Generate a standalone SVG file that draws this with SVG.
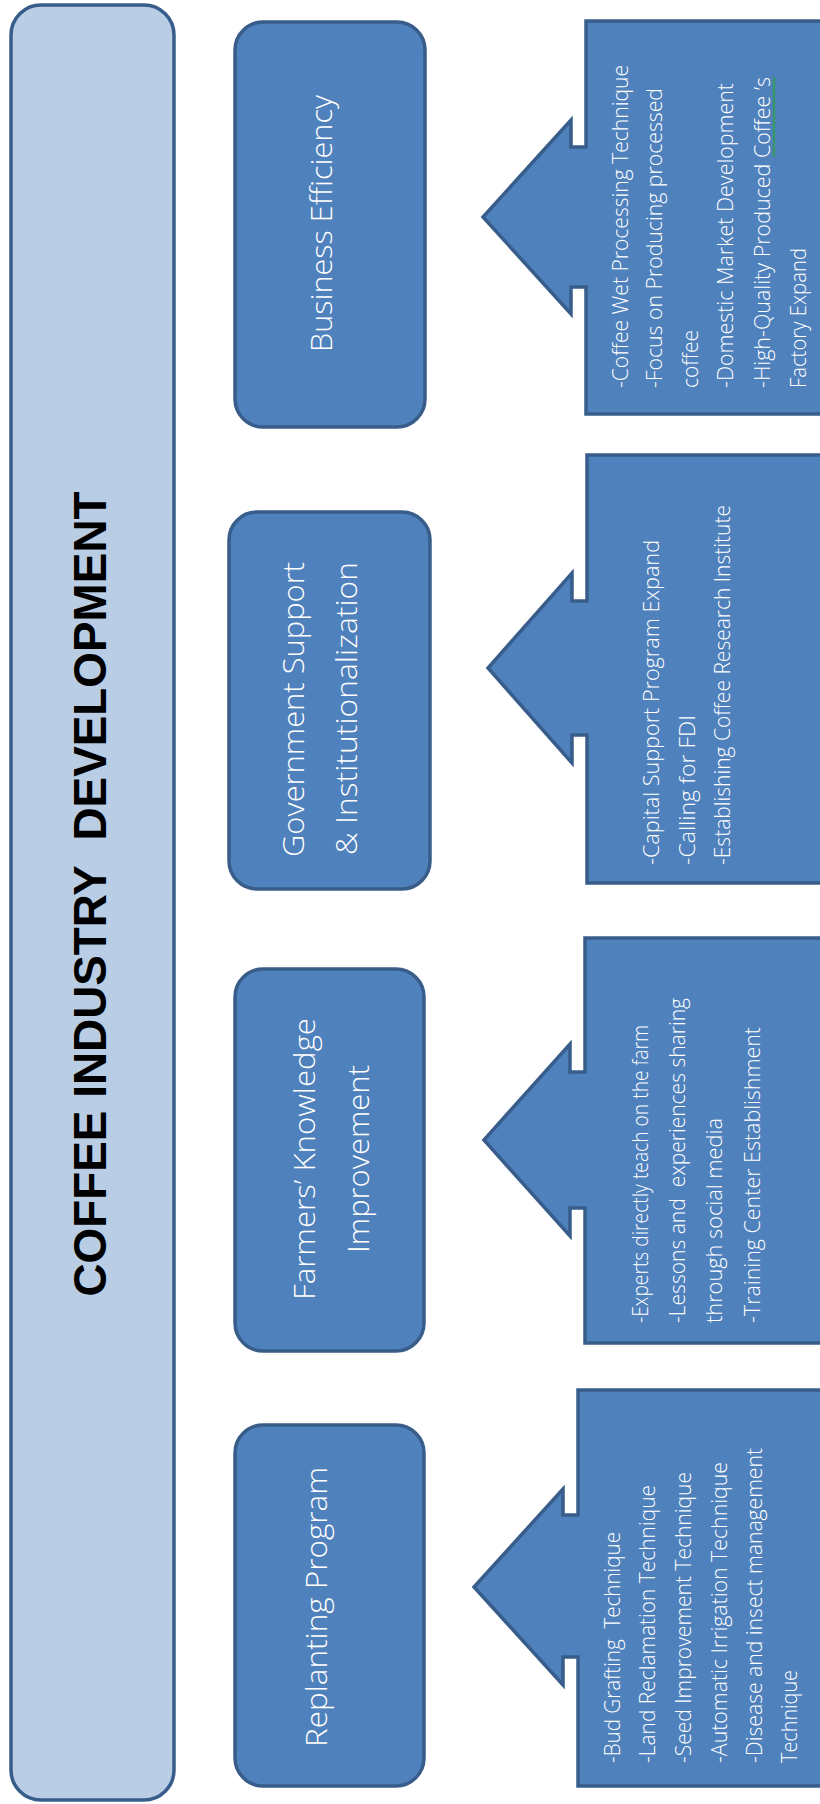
<svg xmlns="http://www.w3.org/2000/svg" width="820" height="1804" viewBox="0 0 820 1804">
<style>
.main{fill:#B9CDE5;stroke:#385D8A;stroke-width:3.5}
.node{fill:#4F81BD;stroke:#385D8A;stroke-width:3.5}
.call{fill:#4F81BD;stroke:#385D8A;stroke-width:3.5;stroke-linejoin:miter}
.title{fill:#000;font-family:"Liberation Sans",Arial,sans-serif;font-weight:bold;font-size:47px;text-anchor:middle}
.lbl{fill:#fff;font-family:"Open Sans","Noto Sans",sans-serif;font-weight:300;font-size:30px;text-anchor:middle}
.item{fill:#fff;font-family:"Open Sans","Noto Sans",sans-serif;font-weight:300;font-size:22px;text-anchor:start}
.squig{fill:none;stroke:#2E9E4A;stroke-width:1.2}
</style>
<rect width="820" height="1804" fill="#fff"/>
<g id="main">
<rect class="main" x="11" y="5" width="163" height="1795" rx="30"/>
<text class="title" x="106" y="894" transform="rotate(-90 106 894)" textLength="805" lengthAdjust="spacingAndGlyphs" xml:space="preserve">COFFEE INDUSTRY  DEVELOPMENT</text>
</g>
<g id="connectors"></g>
<g id="business">
<rect class="node" x="235" y="22" width="190" height="405" rx="28"/>
<text class="lbl" x="332" y="223.5" transform="rotate(-90 332 223.5)" textLength="257" lengthAdjust="spacingAndGlyphs">Business Efficiency</text>
</g>
<g id="business-items">
<path class="call" d="M586,21 H824 V414 H586 V287 H571 V314 L483,217 L571,120 V147 H586 Z"/>
<text class="item" x="628" y="388" transform="rotate(-90 628 388)" textLength="323" lengthAdjust="spacingAndGlyphs">-Coffee Wet Processing Technique</text>
<text class="item" x="662" y="388" transform="rotate(-90 662 388)" textLength="300" lengthAdjust="spacingAndGlyphs">-Focus on Producing processed</text>
<text class="item" x="698" y="388" transform="rotate(-90 698 388)" textLength="58" lengthAdjust="spacingAndGlyphs">coffee</text>
<text class="item" x="733" y="388" transform="rotate(-90 733 388)" textLength="305" lengthAdjust="spacingAndGlyphs">-Domestic Market Development</text>
<text class="item" x="770" y="388" transform="rotate(-90 770 388)" textLength="311" lengthAdjust="spacingAndGlyphs">-High-Quality Produced Coffee ’s</text>
<text class="item" x="806" y="388" transform="rotate(-90 806 388)" textLength="140" lengthAdjust="spacingAndGlyphs">Factory Expand</text>
<path class="squig" d="M773,157 l2,-2 l-2,-2 l2,-2 l-2,-2 l2,-2 l-2,-2 l2,-2 l-2,-2 l2,-2 l-2,-2 l2,-2 l-2,-2 l2,-2 l-2,-2 l2,-2 l-2,-2 l2,-2 l-2,-2 l2,-2 l-2,-2 l2,-2 l-2,-2 l2,-2 l-2,-2 l2,-2 l-2,-2 l2,-2 l-2,-2 l2,-2 l-2,-2 l2,-2 l-2,-2 l2,-2 l-2,-2 l2,-2 l-2,-2 l2,-2 l-2,-2 l2,-2 l-2,-2"/>
</g>
<g id="government">
<rect class="node" x="229" y="512" width="201" height="377" rx="28"/>
<text class="lbl" x="304" y="709.5" transform="rotate(-90 304 709.5)" textLength="295" lengthAdjust="spacingAndGlyphs">Government Support</text>
<text class="lbl" x="357" y="708.5" transform="rotate(-90 357 708.5)" textLength="293" lengthAdjust="spacingAndGlyphs">&amp; Institutionalization</text>
</g>
<g id="government-items">
<path class="call" d="M587,455 H824 V883 H587 V735 H572 V763 L488,668 L572,573 V601 H587 Z"/>
<text class="item" x="659" y="865" transform="rotate(-90 659 865)" textLength="325" lengthAdjust="spacingAndGlyphs">-Capital Support Program Expand</text>
<text class="item" x="695" y="865" transform="rotate(-90 695 865)" textLength="150" lengthAdjust="spacingAndGlyphs">-Calling for FDI</text>
<text class="item" x="730" y="865" transform="rotate(-90 730 865)" textLength="360" lengthAdjust="spacingAndGlyphs">-Establishing Coffee Research Institute</text>
</g>
<g id="farmers">
<rect class="node" x="235" y="969" width="189" height="382" rx="28"/>
<text class="lbl" x="315" y="1159" transform="rotate(-90 315 1159)" textLength="282" lengthAdjust="spacingAndGlyphs">Farmers’ Knowledge</text>
<text class="lbl" x="369" y="1159" transform="rotate(-90 369 1159)" textLength="188" lengthAdjust="spacingAndGlyphs">Improvement</text>
</g>
<g id="farmers-items">
<path class="call" d="M585,938 H824 V1343 H585 V1208 H570 V1236 L484,1140 L570,1044 V1072 H585 Z"/>
<text class="item" x="648" y="1323" transform="rotate(-90 648 1323)" textLength="298" lengthAdjust="spacingAndGlyphs">-Experts directly teach on the farm</text>
<text class="item" x="685" y="1323" transform="rotate(-90 685 1323)" textLength="325" lengthAdjust="spacingAndGlyphs" xml:space="preserve">-Lessons and  experiences sharing</text>
<text class="item" x="722" y="1323" transform="rotate(-90 722 1323)" textLength="205" lengthAdjust="spacingAndGlyphs">through social media</text>
<text class="item" x="760" y="1323" transform="rotate(-90 760 1323)" textLength="296" lengthAdjust="spacingAndGlyphs">-Training Center Establishment</text>
</g>
<g id="replanting">
<rect class="node" x="235" y="1425" width="189" height="361" rx="28"/>
<text class="lbl" x="327" y="1607" transform="rotate(-90 327 1607)" textLength="280" lengthAdjust="spacingAndGlyphs">Replanting Program</text>
</g>
<g id="replanting-items">
<path class="call" d="M578,1390 H824 V1786 H578 V1657 H563 V1685 L474,1587 L563,1489 V1515 H578 Z"/>
<text class="item" x="620" y="1763" transform="rotate(-90 620 1763)" textLength="231" lengthAdjust="spacingAndGlyphs" xml:space="preserve">-Bud Grafting  Technique</text>
<text class="item" x="655" y="1763" transform="rotate(-90 655 1763)" textLength="278" lengthAdjust="spacingAndGlyphs">-Land Reclamation Technique</text>
<text class="item" x="691" y="1763" transform="rotate(-90 691 1763)" textLength="291" lengthAdjust="spacingAndGlyphs">-Seed Improvement Technique</text>
<text class="item" x="727" y="1763" transform="rotate(-90 727 1763)" textLength="301" lengthAdjust="spacingAndGlyphs">-Automatic Irrigation Technique</text>
<text class="item" x="762" y="1763" transform="rotate(-90 762 1763)" textLength="315" lengthAdjust="spacingAndGlyphs">-Disease and insect management</text>
<text class="item" x="797" y="1763" transform="rotate(-90 797 1763)" textLength="93" lengthAdjust="spacingAndGlyphs">Technique</text>
</g>
</svg>
